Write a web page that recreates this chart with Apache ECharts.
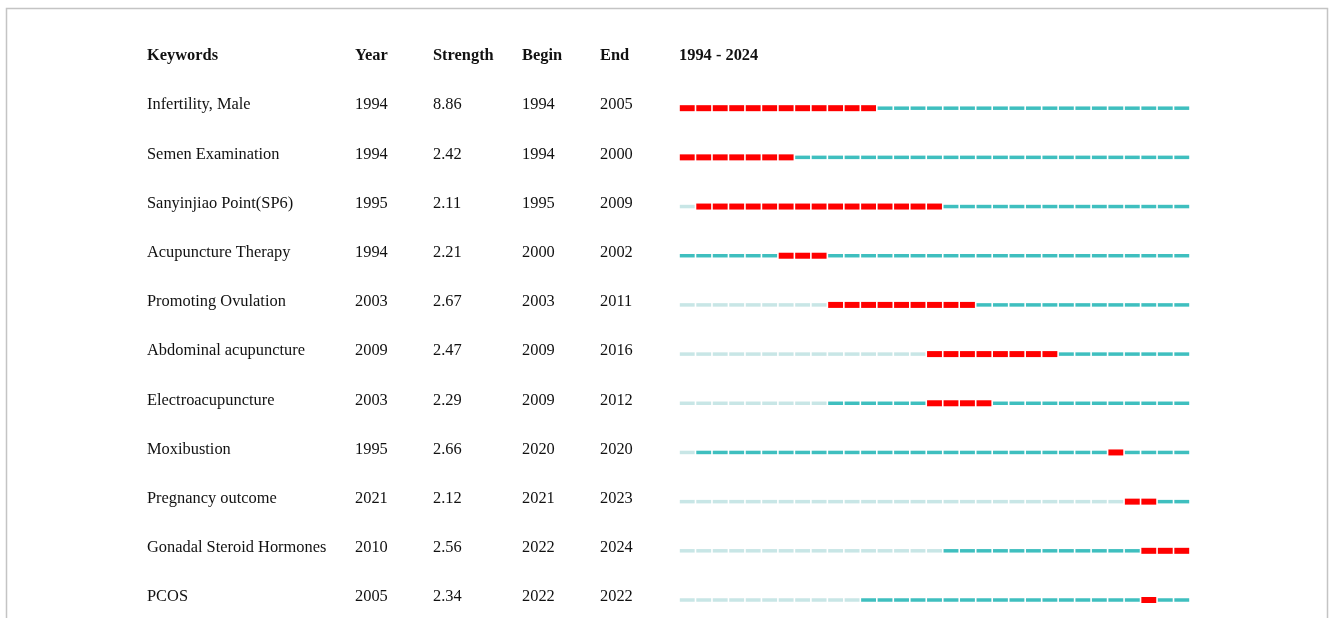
<!DOCTYPE html>
<html>
<head>
<meta charset="utf-8">
<script src="https://cdn.jsdelivr.net/npm/echarts@6/dist/echarts.min.js"></script>
<style>html,body{margin:0;padding:0;background:#fff}#c{width:1330px;height:618px}</style>
</head>
<body>
<div id="c"></div>
<script>
const headers = ['Keywords', 'Year', 'Strength', 'Begin', 'End', '1994 - 2024'];
const keywords = ['Infertility, Male', 'Semen Examination', 'Sanyinjiao Point(SP6)', 'Acupuncture Therapy', 'Promoting Ovulation', 'Abdominal acupuncture', 'Electroacupuncture', 'Moxibustion', 'Pregnancy outcome', 'Gonadal Steroid Hormones', 'PCOS'];
const years = [1994, 1994, 1995, 1994, 2003, 2009, 2003, 1995, 2021, 2010, 2005];
const strengths = ['8.86', '2.42', '2.11', '2.21', '2.67', '2.47', '2.29', '2.66', '2.12', '2.56', '2.34'];
const begins = [1994, 1994, 1995, 2000, 2003, 2009, 2009, 2020, 2021, 2022, 2022];
const ends = [2005, 2000, 2009, 2002, 2011, 2016, 2012, 2020, 2023, 2024, 2022];
// burst spans as drawn in the picture
const burstBegins = [1994, 1994, 1995, 2000, 2003, 2009, 2009, 2020, 2021, 2022, 2022];
const burstEnds = [2005, 2000, 2009, 2002, 2011, 2016, 2012, 2020, 2022, 2024, 2022];
const firstYear = 1994, lastYear = 2024;

const RED = '#ff0000', TEAL = '#3fbfbf', LIGHT = '#c8e6e6';
const FONT = '"Liberation Serif", "Times New Roman", serif';

const cells = [];
keywords.forEach((k, i) => {
  for (let y = firstYear; y <= lastYear; y++) {
    let t = 1;
    if (y < years[i]) t = 0;
    else if (y >= burstBegins[i] && y <= burstEnds[i]) t = 2;
    cells.push([y, i + 1, t]);
  }
});
const rows = [[firstYear, 0, -1]].concat(keywords.map((k, i) => [firstYear, i + 1, i]));
const colX = [147, 355, 433, 522, 600, 679];

const chart = echarts.init(document.getElementById('c'));
chart.setOption({
  animation: false,
  grid: { left: 679, width: 511, top: 55, height: 541 },
  xAxis: { type: 'value', min: firstYear, max: lastYear + 1, show: false },
  yAxis: { type: 'value', min: 0, max: 11, inverse: true, show: false },
  graphic: [{
    type: 'rect', shape: { x: 6.5, y: 8.5, width: 1321, height: 700 },
    style: { fill: 'none', stroke: '#c4c4c4', lineWidth: 1.5 }, silent: true
  }],
  series: [{
    type: 'custom',
    data: cells,
    renderItem: (params, api) => {
      const yr = api.value(0), row = api.value(1), t = api.value(2);
      const p0 = api.coord([yr, row]);
      const p1 = api.coord([yr + 1, row]);
      const h = t === 2 ? 6 : 3.5;
      const cy = p0[1] + 4;
      return {
        type: 'rect',
        shape: { x: p0[0] + 0.8, y: cy - h / 2, width: p1[0] - p0[0] - 1.6, height: h },
        style: { fill: t === 2 ? RED : (t === 1 ? TEAL : LIGHT) }
      };
    }
  }, {
    type: 'custom',
    data: rows,
    renderItem: (params, api) => {
      const row = api.value(1), idx = api.value(2);
      const y = api.coord([firstYear, row])[1] + 1;
      let texts;
      if (idx < 0) texts = headers;
      else texts = [keywords[idx], String(years[idx]), strengths[idx], String(begins[idx]), String(ends[idx])];
      return {
        type: 'group',
        children: texts.map((s, j) => ({
          type: 'text',
          style: {
            x: colX[j], y: y, text: s,
            fill: '#111',
            font: (idx < 0 ? 'bold ' : '') + '16.4px ' + FONT,
            textAlign: 'left', textVerticalAlign: 'middle'
          }
        }))
      };
    }
  }]
});
</script>
</body>
</html>
